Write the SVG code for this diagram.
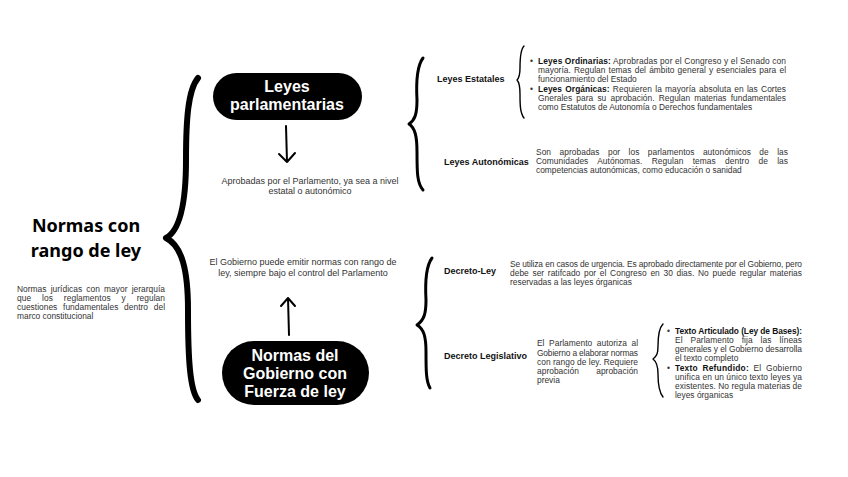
<svg xmlns="http://www.w3.org/2000/svg" width="848" height="477" viewBox="0 0 848 477">
<style>
.bg{fill:#ffffff}
.h{font-family:"Noto Sans","Liberation Sans",sans-serif;font-weight:700;fill:#000}
.ph{font-family:"Liberation Sans",Arial,sans-serif;font-weight:700;fill:#fff;font-size:16px;text-anchor:middle}
.b{font-family:"Liberation Sans",Arial,sans-serif;font-size:8.4px;fill:#333}
.c{font-family:"Liberation Sans",Arial,sans-serif;font-size:9px;fill:#333;text-anchor:middle}
.lb{font-family:"Liberation Sans",Arial,sans-serif;font-size:9px;font-weight:700;fill:#111}
.k{font-weight:700;fill:#111}
.pill{fill:#000}
.br{fill:none;stroke:#000;stroke-linecap:round;stroke-linejoin:round}
.ar{fill:none;stroke:#000;stroke-width:2;stroke-linecap:round;stroke-linejoin:round}
</style>
<rect class="bg" x="0" y="0" width="848" height="477"/>

<g id="connectors">
  <path class="br" stroke-width="6" d="M198,78 C188,90 186,120 186,160 C186,200 181,230 166,238 C182,246 188,270 188,310 C188,360 190,390 198,400"/>
  <path class="br" stroke-width="3" d="M423,58 C417,66 416,82 417,100 C417,114 415,120 409,124 C415,128 417,136 417,152 C417,172 417,183 423,190"/>
  <path class="br" stroke-width="3" d="M432,258 C426,266 425,282 426,300 C426,314 424,320 417,325 C424,329 426,337 426,352 C426,370 426,381 430,388"/>
  <path class="br" stroke-width="1.4" d="M524,46 C520,50 520,60 520,68 C520,75 519,78 517,80 C519,82 520,86 520,94 C520,104 520,113 524,118"/>
  <path class="br" stroke-width="1.4" d="M663,324 C659,328 658,338 658,346 C658,353 657,356 653,359 C657,362 658,366 658,374 C658,384 659,392 663,397"/>
  <path class="ar" d="M286,126 L287,162 M279,154 L287,162 L295,153"/>
  <path class="ar" d="M289,335 L288,298 M281,306 L288,298 L295,306"/>
</g>

<g id="node-root">
  <text class="h" font-size="18" x="86" y="232" text-anchor="middle">Normas con</text>
  <text class="h" font-size="18" x="86" y="257" text-anchor="middle">rango de ley</text>
  <text class="b" x="17" y="292" word-spacing="1.8" textLength="148" lengthAdjust="spacing">Normas jurídicas con mayor jerarquía</text>
  <text class="b" x="17" y="301" word-spacing="8.5" textLength="148" lengthAdjust="spacing">que los reglamentos y regulan</text>
  <text class="b" x="17" y="310" word-spacing="3.4" textLength="148" lengthAdjust="spacing">cuestiones fundamentales dentro del</text>
  <text class="b" x="17" y="319">marco constitucional</text>
</g>

<g id="node-leyes-parlamentarias">
  <rect class="pill" x="213" y="73" width="149" height="47" rx="23.5"/>
  <text class="ph" x="287" y="92">Leyes</text>
  <text class="ph" x="287" y="110">parlamentarias</text>
</g>

<g id="node-aprobadas">
  <text class="c" x="310" y="184">Aprobadas por el Parlamento, ya sea a nivel</text>
  <text class="c" x="310" y="194">estatal o  autonómico</text>
</g>

<g id="node-gobierno-emite">
  <text class="c" x="303" y="265">El Gobierno puede emitir normas con rango de</text>
  <text class="c" x="303" y="276">ley, siempre bajo el control del Parlamento</text>
</g>

<g id="node-normas-gobierno">
  <rect class="pill" x="222" y="341" width="147" height="64" rx="32"/>
  <text class="ph" x="295" y="361">Normas del</text>
  <text class="ph" x="295" y="379">Gobierno con</text>
  <text class="ph" x="295" y="397">Fuerza de ley</text>
</g>

<g id="node-leyes-estatales">
  <text class="lb" x="437" y="82">Leyes Estatales</text>
</g>

<g id="node-estatales-detalle">
  <text class="b" x="530" y="64">•</text>
  <text class="b" x="538" y="64" textLength="248" lengthAdjust="spacing"><tspan class="k">Leyes Ordinarias:</tspan>  Aprobradas por el Congreso y el Senado con</text>
  <text class="b" x="538" y="73" word-spacing="0.8" textLength="248" lengthAdjust="spacing">mayoría. Regulan temas del ámbito general y esenciales para el</text>
  <text class="b" x="538" y="82">funcionamiento del Estado</text>
  <text class="b" x="530" y="92">•</text>
  <text class="b" x="538" y="92" word-spacing="0.8" textLength="248" lengthAdjust="spacing"><tspan class="k">Leyes  Orgánicas:</tspan> Requieren la mayoría absoluta en las Cortes</text>
  <text class="b" x="538" y="101" word-spacing="1.8" textLength="248" lengthAdjust="spacing">Gnerales para su aprobación. Regulan materias fundamentales</text>
  <text class="b" x="538" y="110">como Estatutos de Autonomía o Derechos fundamentales</text>
</g>

<g id="node-leyes-autonomicas">
  <text class="lb" x="444" y="165">Leyes Autonómicas</text>
</g>

<g id="node-autonomicas-detalle">
  <text class="b" x="536" y="155" word-spacing="6" textLength="252" lengthAdjust="spacing">Son aprobadas por los parlamentos autonómicos de las</text>
  <text class="b" x="536" y="164" word-spacing="6.9" textLength="252" lengthAdjust="spacing">Comunidades Autónomas. Regulan temas dentro de las</text>
  <text class="b" x="536" y="173">competencias autonómicas, como educación o sanidad</text>
</g>

<g id="node-decreto-ley">
  <text class="lb" x="444" y="274">Decreto-Ley</text>
</g>

<g id="node-decreto-ley-detalle">
  <text class="b" x="510" y="267" textLength="292" lengthAdjust="spacing">Se utiliza en casos de urgencia. Es aprobado directamente por el Gobierno, pero</text>
  <text class="b" x="510" y="276" word-spacing="1.3" textLength="292" lengthAdjust="spacing">debe ser ratifcado por el Congreso en 30 dias. No puede regular materias</text>
  <text class="b" x="510" y="285">reservadas a las leyes órganicas</text>
</g>

<g id="node-decreto-legislativo">
  <text class="lb" x="444" y="359">Decreto Legislativo</text>
</g>

<g id="node-decreto-legislativo-detalle">
  <text class="b" x="537" y="346" word-spacing="2.2" textLength="101" lengthAdjust="spacing">El Parlamento autoriza al</text>
  <text class="b" x="537" y="356" textLength="101" lengthAdjust="spacing">Gobierno a elaborar normas</text>
  <text class="b" x="537" y="365" textLength="101" lengthAdjust="spacing">con rango de ley. Requiere</text>
  <text class="b" x="537" y="374" word-spacing="15" textLength="101" lengthAdjust="spacing">aprobación aprobación</text>
  <text class="b" x="537" y="383">previa</text>
</g>

<g id="node-tipos-decreto-legislativo">
  <text class="b" x="667" y="334">•</text>
  <text class="b" x="675" y="334" textLength="127" lengthAdjust="spacing"><tspan class="k">Texto Articulado (Ley de Bases):</tspan></text>
  <text class="b" x="675" y="343" word-spacing="5.6" textLength="127" lengthAdjust="spacing">El Parlamento fija las líneas</text>
  <text class="b" x="675" y="352" textLength="127" lengthAdjust="spacing">generales y el Gobierno desarrolla</text>
  <text class="b" x="675" y="361">el texto completo</text>
  <text class="b" x="667" y="371">•</text>
  <text class="b" x="675" y="371" word-spacing="2" textLength="127" lengthAdjust="spacing"><tspan class="k">Texto  Refundido:</tspan> El Gobierno</text>
  <text class="b" x="675" y="380" textLength="127" lengthAdjust="spacing">unifica en un único texto leyes ya</text>
  <text class="b" x="675" y="389" textLength="127" lengthAdjust="spacing">existentes. No regula materias de</text>
  <text class="b" x="675" y="398">leyes órganicas</text>
</g>
</svg>
